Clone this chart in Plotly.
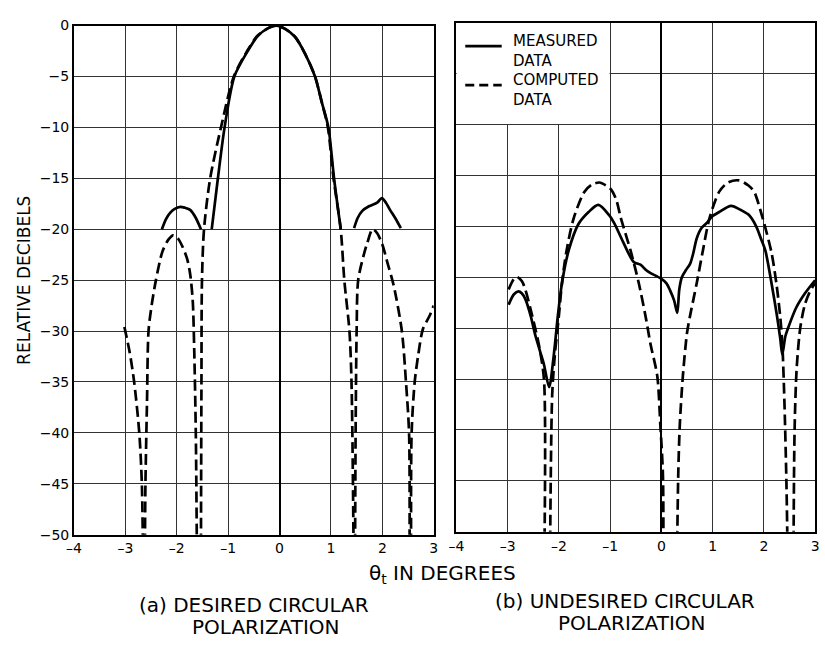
import plotly.graph_objects as go

# ---------------- data ----------------
x_ticks = [-4, -3, -2, -1, 0, 1, 2, 3]
x_ticktext = ["–4", "–3", "–2", "–1", "0", "1", "2", "3"]
y_ticks = [0, -5, -10, -15, -20, -25, -30, -35, -40, -45, -50]

# (a) desired circular polarization -- measured (solid), segments separated by None
a_meas_x = [-2.29, -2.21, -2.13, -2.04, -1.93, -1.84, -1.74, -1.64, -1.53, None,
            -1.32, -1.2, -1.07, -0.88, -0.62, -0.42, -0.22, -0.06, 0.1, 0.3, 0.5,
            0.69, 0.82, 0.95, 1.06, 1.19, None,
            1.45, 1.52, 1.61, 1.74, 1.9, 1.99, 2.07, 2.15, 2.25, 2.36]
a_meas_y = [-20.0, -19.0, -18.4, -18.0, -17.8, -17.9, -18.1, -18.8, -20.0, None,
            -20.0, -15.0, -10.0, -5.0, -2.5, -1.0, -0.25, 0.0, -0.3, -1.1, -2.8,
            -5.0, -7.5, -10.0, -15.0, -20.0, None,
            -19.9, -18.9, -18.2, -17.75, -17.4, -16.95, -17.4, -18.1, -18.9, -19.9]

# (a) computed (dashed)
a_comp_x = [-3.02, -2.92, -2.83, -2.73, -2.68, -2.66, None,
            -2.62, -2.61, -2.58, -2.55, -2.49, -2.41, -2.28, -2.16, -2.07, -1.98, -1.9,
            -1.8, -1.74, -1.69, -1.66, -1.63, -1.61, None,
            -1.53, -1.52, -1.51, -1.47, -1.35, -1.14, -0.89, -0.63, -0.43, -0.2, -0.08,
            0.1, 0.3, 0.5, 0.69, 0.82, 0.94, 1.05, 1.19, 1.26, 1.36, 1.40, 1.44, None,
            1.47, 1.48, 1.5, 1.53, 1.64, 1.71, 1.81, 1.9, 2.0, 2.1, 2.22, 2.38, 2.46, 2.52, 2.53, None,
            2.56, 2.57, 2.63, 2.7, 2.79, 2.92, 3.0]
a_comp_y = [-29.6, -32.0, -35.0, -40.0, -45.0, -51.0, None,
            -51.0, -45.0, -37.0, -30.0, -27.5, -25.1, -22.2, -21.0, -20.6, -20.9, -21.6,
            -22.9, -24.4, -27.0, -32.0, -40.0, -51.0, None,
            -51.0, -35.0, -25.0, -20.0, -15.0, -10.0, -5.0, -2.5, -1.0, -0.2, 0.0,
            -0.3, -1.1, -2.8, -5.0, -7.5, -10.0, -15.0, -20.0, -25.0, -30.0, -35.0, -51.0, None,
            -51.0, -40.0, -30.0, -25.0, -22.5, -21.3, -20.0, -20.4, -21.5, -23.3, -25.5, -30.0, -35.0, -40.0, -51.0, None,
            -51.0, -40.0, -35.0, -32.3, -29.8, -28.5, -27.5]

# (b) undesired circular polarization -- measured (solid)
b_meas_x = [-2.98, -2.88, -2.79, -2.72, -2.65, -2.55, -2.46, -2.36, -2.29, -2.19, -2.1,
            -2.02, -1.94, -1.81, -1.62, -1.42, -1.23, -1.02, -0.92, -0.75, -0.54, -0.4,
            -0.3, -0.21, -0.02, 0.1, 0.17, 0.25, 0.31, 0.35, 0.40, 0.48, 0.56, 0.62, 0.69,
            0.78, 0.88, 1.0, 1.13, 1.36, 1.55, 1.71, 1.85, 1.95, 2.03, 2.15, 2.25, 2.32,
            2.36, 2.42, 2.48, 2.63, 2.8, 3.0]
b_meas_y = [-27.7, -26.7, -26.4, -26.6, -27.2, -28.8, -30.7, -32.4, -33.6, -35.8, -32.7,
            -28.8, -25.6, -22.4, -19.8, -18.6, -17.9, -18.9, -19.7, -21.5, -23.5, -23.8,
            -24.3, -24.6, -25.1, -25.6, -26.3, -27.3, -28.5, -26.2, -25.0, -24.3, -23.7, -22.7, -21.2,
            -20.2, -19.7, -19.0, -18.6, -18.0, -18.4, -18.9, -20.0, -21.3, -22.4, -25.6, -28.6, -31.0,
            -32.6, -30.8, -29.9, -28.0, -26.6, -25.3]

# (b) computed (dashed)
b_comp_x = [-2.98, -2.88, -2.81, -2.72, -2.65, -2.52, -2.38, -2.29, -2.28, None,
            -2.17, -2.13, -2.08, -2.0, -1.94, -1.85, -1.71, -1.5, -1.35, -1.21, -1.08,
            -0.98, -0.88, -0.79, -0.6, -0.44, -0.31, -0.21, -0.08, -0.02, 0.03, 0.04, None,
            0.31, 0.33, 0.36, 0.42, 0.5, 0.56, 0.69, 0.81, 0.94, 1.13, 1.3, 1.52, 1.7,
            1.81, 1.96, 2.0, 2.15, 2.25, 2.32, 2.36, 2.40, 2.44, 2.46, None,
            2.58, 2.6, 2.64, 2.71, 2.8, 2.9, 3.0]
b_comp_y = [-26.2, -25.2, -25.0, -25.4, -26.3, -28.8, -31.9, -35.1, -51.0, None,
            -51.0, -36.5, -32.7, -28.8, -25.6, -22.4, -19.2, -16.6, -15.9, -15.7, -16.0,
            -16.4, -17.4, -19.2, -22.4, -25.6, -28.8, -31.6, -34.7, -39.5, -44.3, -51.0, None,
            -51.0, -44.3, -39.5, -34.7, -30.5, -28.8, -25.6, -22.4, -19.2, -16.6, -15.7, -15.5, -16.0,
            -16.6, -18.9, -19.6, -22.6, -25.8, -28.9, -31.5, -37.0, -45.0, -51.0, None,
            -51.0, -40.0, -34.0, -30.0, -27.7, -26.4, -25.6]

legend_texts = ["MEASURED<br>DATA", "COMPUTED<br>DATA"]
x_title = "θ<sub>t</sub> IN DEGREES"
y_title = "RELATIVE DECIBELS"
caption_a = ["(a) DESIRED CIRCULAR", "POLARIZATION"]
caption_b = ["(b) UNDESIRED CIRCULAR", "POLARIZATION"]

# ---------------- figure ----------------
W, H = 825, 648
FONT = "DejaVu Sans"
solid = dict(color="black", width=2.7, shape="spline", smoothing=0.8)
dashed = dict(color="black", width=2.7, dash="11px,5px", shape="spline", smoothing=0.8)

fig = go.Figure()
fig.add_trace(go.Scatter(x=a_meas_x, y=a_meas_y, xaxis="x", yaxis="y", mode="lines",
                         line=solid, connectgaps=False, name="MEASURED DATA", showlegend=False))
fig.add_trace(go.Scatter(x=a_comp_x, y=a_comp_y, xaxis="x", yaxis="y", mode="lines",
                         line=dashed, connectgaps=False, name="COMPUTED DATA", showlegend=False))
fig.add_trace(go.Scatter(x=b_meas_x, y=b_meas_y, xaxis="x2", yaxis="y2", mode="lines",
                         line=solid, name="MEASURED DATA", showlegend=False))
fig.add_trace(go.Scatter(x=b_comp_x, y=b_comp_y, xaxis="x2", yaxis="y2", mode="lines",
                         line=dashed, connectgaps=False, name="COMPUTED DATA", showlegend=False))

def px_x(p):
    return p / W

def px_y(p):
    return 1 - p / H

axis_common = dict(showgrid=True, gridcolor="#333333", gridwidth=1,
                   zeroline=True, zerolinecolor="black", zerolinewidth=1.6,
                   showline=True, linecolor="black", linewidth=2, mirror=True,
                   ticks="", fixedrange=True)
tickfont = dict(family=FONT, size=14, color="black")

fig.update_layout(
    width=W, height=H, autosize=False,
    margin=dict(l=0, r=0, t=0, b=0),
    paper_bgcolor="white", plot_bgcolor="white",
    font=dict(family=FONT, color="black"),
    showlegend=False,
    xaxis=dict(domain=[px_x(67), px_x(432)], range=[-4, 3], tickvals=x_ticks,
               ticktext=x_ticktext, anchor="y", tickfont=tickfont, **axis_common),
    yaxis=dict(domain=[px_y(540), px_y(18)], range=[-50, 0], tickvals=y_ticks,
               anchor="x", tickfont=tickfont, **axis_common),
    xaxis2=dict(domain=[px_x(455), px_x(819)], range=[-4, 3], tickvals=x_ticks,
                ticktext=x_ticktext, anchor="y2", tickfont=tickfont, **axis_common),
    yaxis2=dict(domain=[px_y(537), px_y(15)], range=[-50, 0], tickvals=y_ticks,
                anchor="x2", showticklabels=False, **axis_common),
)

# white legend area over the grid (between grid and traces)
fig.add_shape(type="rect", xref="x2", yref="y2", x0=-4, x1=-1.012, y0=-9.95, y1=0,
              fillcolor="white", line=dict(width=0), layer="between")

# legend: sample lines + text
leg_font = dict(family=FONT, size=15, color="black")
leg_styles = [dict(color="black", width=2.7), dict(color="black", width=2.7, dash="9px,5px")]
for i, (style, txt) in enumerate(zip(leg_styles, legend_texts)):
    yl = 39 + 40 * i
    fig.add_shape(type="line", xref="paper", yref="paper",
                  x0=px_x(464), x1=px_x(501), y0=px_y(yl), y1=px_y(yl), line=style)
    fig.add_annotation(xref="paper", yref="paper", x=px_x(510), y=px_y(yl - 16),
                       text=txt, showarrow=False, font=leg_font, align="left",
                       xanchor="left", yanchor="top")

ann_font = dict(family=FONT, size=20, color="black")
fig.add_annotation(xref="paper", yref="paper", x=px_x(441), y=px_y(580),
                   text=x_title, showarrow=False, font=ann_font,
                   xanchor="center", yanchor="middle")
fig.add_annotation(xref="paper", yref="paper", x=px_x(16), y=px_y(279),
                   text=y_title, showarrow=False, textangle=-90,
                   font=dict(family=FONT, size=17, color="black"),
                   xanchor="center", yanchor="middle")
for txt, cx, cy in [(caption_a[0], 250, 612), (caption_a[1], 262, 635),
                    (caption_b[0], 626, 608), (caption_b[1], 633, 631)]:
    fig.add_annotation(xref="paper", yref="paper", x=px_x(cx), y=px_y(cy),
                       text=txt, showarrow=False, font=ann_font,
                       xanchor="center", yanchor="middle")

fig.write_html("out.html")
